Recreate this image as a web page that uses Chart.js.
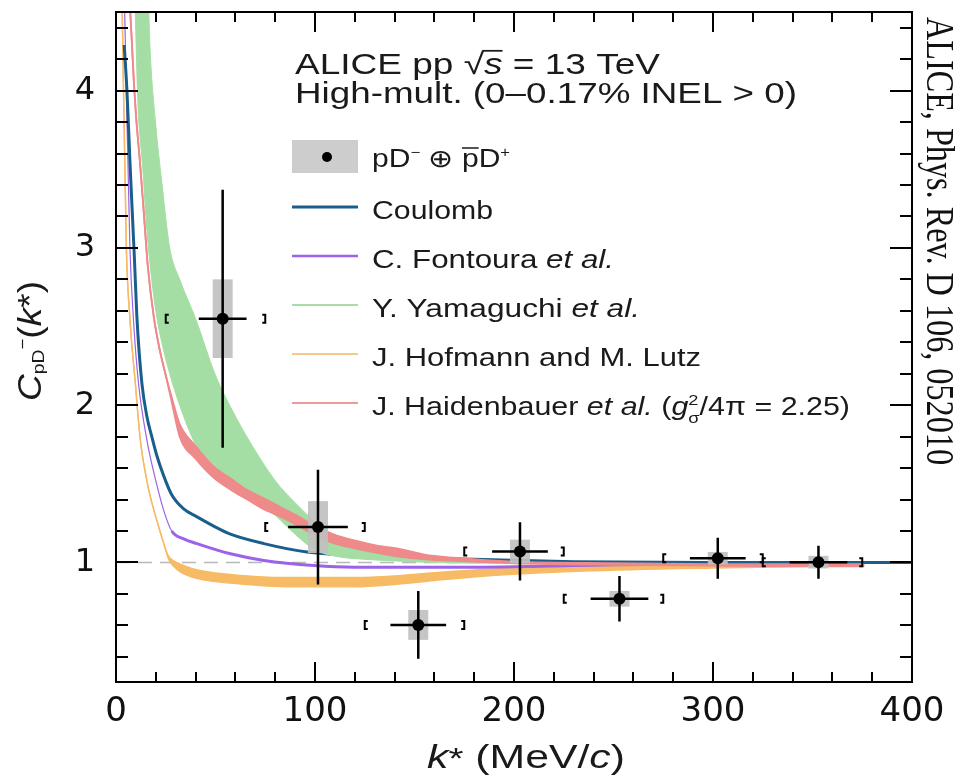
<!DOCTYPE html>
<html>
<head>
<meta charset="utf-8">
<script src="https://cdn.jsdelivr.net/npm/chart.js@4.4.1/dist/chart.umd.min.js"></script>
<style>
  html, body { margin: 0; padding: 0; background: #fff; }
  #wrap { width: 959px; height: 776px; position: relative; }
</style>
</head>
<body>
<div id="wrap"><canvas id="cf"></canvas></div>
<script>
// measured pD- correlation function, high-multiplicity pp at 13 TeV
const dataK = [53.6, 101.5, 151.9, 203, 253, 302.4, 353];
const dataC = [2.55, 1.225, 0.603, 1.07, 0.769, 1.027, 1.002];
const statErr = [0.82, 0.365, 0.215, 0.185, 0.145, 0.13, 0.105];
const kErr = [12, 15, 14, 14, 14.5, 14, 14.5];
const sysErr = [0.25, 0.165, 0.095, 0.075, 0.05, 0.04, 0.04];
const binLow = [25, 75, 125, 175, 225, 275, 325];
const binHigh = [75, 125, 175, 225, 275, 325, 375];

// Coulomb only
const coulombK = [4.1, 5.5, 7.1, 9.2, 10.5, 13, 15.5, 18, 20.5, 24, 28, 34, 40.7, 50, 57.5, 74.3, 96, 120, 150, 180, 230, 300, 400];
const coulombC = [4.29, 4.0, 3.52, 2.95, 2.56, 2.14, 1.93, 1.80, 1.68, 1.55, 1.43, 1.34, 1.29, 1.225, 1.18, 1.12, 1.066, 1.045, 1.03, 1.02, 1.005, 1.0, 1.0];

// C. Fontoura et al.
const fontouraK = [4.2, 5.2, 7, 9, 11.3, 15.5, 20, 24, 28, 34, 40.7, 57.5, 74.3, 99.5, 120, 176, 250, 300, 376];
const fontouraC = [4.6, 4.0, 3.0, 2.5, 2.14, 1.78, 1.52, 1.33, 1.20, 1.15, 1.12, 1.055, 1.013, 0.98, 0.97, 0.97, 0.985, 0.99, 0.995];

// Y. Yamaguchi et al. (band)
const yamaguchiK = [9.5, 10, 11, 12, 13.5, 15, 17, 20, 23, 27, 32, 40, 50, 60, 70, 80, 90, 100, 110, 125, 140, 160, 180, 200];
const yamaguchiLo = [4.6, 4.35, 3.92, 3.72, 3.5, 3.2, 2.91, 2.6, 2.40, 2.2, 2.0, 1.75, 1.60, 1.50, 1.40, 1.30, 1.18, 1.08, 1.04, 1.02, 1.01, 1.0, 0.996, 0.996];
const yamaguchiHi = [5.1, 5.1, 5.1, 5.1, 5.1, 5.1, 4.3, 3.78, 3.42, 3.0, 2.80, 2.55, 2.19, 1.93, 1.71, 1.52, 1.38, 1.26, 1.17, 1.095, 1.045, 1.015, 1.0, 0.998];

// J. Hofmann and M. Lutz (band)
const hofmannK = [3, 5.2, 7, 9.7, 12.2, 15.5, 17.2, 20, 22.3, 24.5, 26.4, 29, 32.3, 40, 49, 66, 83, 100, 120, 140, 160, 193, 235, 300, 376];
const hofmannHi = [4.6, 3.0, 2.55, 2.14, 1.78, 1.52, 1.42, 1.29, 1.19, 1.10, 1.04, 1.01, 0.99, 0.955, 0.935, 0.915, 0.905, 0.905, 0.905, 0.915, 0.935, 0.96, 0.975, 0.985, 0.99];
const hofmannLo = [4.6, 3.0, 2.55, 2.14, 1.78, 1.52, 1.42, 1.29, 1.19, 1.10, 1.02, 0.975, 0.94, 0.90, 0.88, 0.86, 0.847, 0.845, 0.845, 0.86, 0.885, 0.92, 0.945, 0.965, 0.98];

// J. Haidenbauer et al. (band)
const haidenbauerK = [6, 7, 8, 9, 10, 12, 14, 16, 19, 22, 25, 28, 32, 40, 49, 58, 66, 74, 83, 92, 100, 110, 120, 130, 143, 155, 170, 200, 250, 300, 340, 376];
const haidenbauerHi = [4.9, 4.55, 4.3, 4.05, 3.85, 3.55, 3.22, 2.88, 2.56, 2.35, 2.19, 2.05, 1.88, 1.74, 1.61, 1.53, 1.46, 1.41, 1.35, 1.29, 1.23, 1.175, 1.14, 1.11, 1.085, 1.05, 1.03, 1.005, 0.995, 0.99, 0.99, 0.99];
const haidenbauerLo = [4.9, 4.55, 4.3, 4.05, 3.85, 3.55, 3.22, 2.88, 2.56, 2.35, 2.19, 2.02, 1.80, 1.66, 1.54, 1.46, 1.40, 1.34, 1.29, 1.23, 1.17, 1.12, 1.09, 1.065, 1.035, 1.02, 1.01, 0.995, 0.985, 0.98, 0.975, 0.975];

const unityK = [0, 400];
const unityC = [1, 1];

const xTickLabels = [0, 100, 200, 300, 400];
const yTickLabels = [1, 2, 3, 4];

const BLUE = '#1a5e8c';
const PURPLE = '#9c62e8';
const GREEN = '#a4dea4';
const ORANGE = '#f7bb66';
const RED = '#ee8a8a';
const SANS = '"Liberation Sans", Arial, Helvetica, sans-serif';
const SERIF = '"Liberation Serif", "Times New Roman", serif';

const pts = (xs, ys) => xs.map((x, i) => ({ x, y: ys[i] }));

// ---- rich text: runs with italics, sub/superscripts, overlines; fitted to a width
function runFont(r, size) {
  return (r.i ? 'italic ' : '') + (size * (r.s || 1)).toFixed(1) + 'px ' + (r.f || SANS);
}
function runWidth(ctx, r, size) {
  if (r.sup !== undefined) {
    ctx.font = runFont({ s: r.s }, size);
    return Math.max(ctx.measureText(r.sup).width, ctx.measureText(r.sub).width);
  }
  ctx.font = runFont(r, size);
  return ctx.measureText(r.t).width;
}
function drawRuns(ctx, runs, x, y, size, width, sy) {
  const ws = runs.map(r => runWidth(ctx, r, size));
  const total = ws.reduce((a, b) => a + b, 0);
  const sx = width ? width / total : 1;
  ctx.save();
  ctx.translate(x, y);
  ctx.scale(sx, sy || 1);
  ctx.textAlign = 'left';
  ctx.textBaseline = 'alphabetic';
  let cx = 0;
  runs.forEach((r, i) => {
    if (r.sup !== undefined) {
      ctx.font = runFont({ s: r.s }, size);
      ctx.fillText(r.sup, cx, -0.42 * size);
      ctx.fillText(r.sub, cx, 0.3 * size);
    } else {
      const dy = (r.dy || 0) * size;
      ctx.font = runFont(r, size);
      ctx.fillText(r.t, cx, dy);
      if (r.bar) {
        ctx.lineWidth = size * 0.06;
        ctx.beginPath();
        ctx.moveTo(cx - (r.barPad || 0) * size, dy - r.bar * size);
        ctx.lineTo(cx + ws[i], dy - r.bar * size);
        ctx.stroke();
      }
    }
    cx += ws[i];
  });
  ctx.restore();
}

// ---- data points: systematic boxes, bin brackets, statistical bars
const errorBars = {
  id: 'errorBars',
  beforeDatasetDraw(chart, args) {
    if (chart.data.datasets[args.index].label !== 'data') return;
    const { ctx, scales: { x, y } } = chart;
    ctx.save();
    dataK.forEach((k, i) => {
      const px = x.getPixelForValue(k);
      const py = y.getPixelForValue(dataC[i]);
      // systematic box
      const top = y.getPixelForValue(dataC[i] + sysErr[i]);
      const bot = y.getPixelForValue(dataC[i] - sysErr[i]);
      ctx.fillStyle = 'rgba(192,192,192,0.92)';
      ctx.fillRect(px - 10, top, 20, bot - top);
      // bin brackets
      ctx.strokeStyle = '#000';
      ctx.lineWidth = 2;
      const bl = x.getPixelForValue(binLow[i]);
      const bh = x.getPixelForValue(binHigh[i]);
      ctx.beginPath();
      ctx.moveTo(bl + 3, py - 4); ctx.lineTo(bl, py - 4); ctx.lineTo(bl, py + 4); ctx.lineTo(bl + 3, py + 4);
      ctx.moveTo(bh - 3, py - 4); ctx.lineTo(bh, py - 4); ctx.lineTo(bh, py + 4); ctx.lineTo(bh - 3, py + 4);
      ctx.stroke();
      // statistical errors
      ctx.lineWidth = 2.5;
      ctx.beginPath();
      ctx.moveTo(px, y.getPixelForValue(dataC[i] + statErr[i]));
      ctx.lineTo(px, y.getPixelForValue(dataC[i] - statErr[i]));
      ctx.moveTo(x.getPixelForValue(k - kErr[i]), py);
      ctx.lineTo(x.getPixelForValue(k + kErr[i]), py);
      ctx.stroke();
    });
    ctx.restore();
  }
};

// ---- frame with inward ticks on all four sides
const frame = {
  id: 'frame',
  afterDraw(chart) {
    const { ctx, chartArea: a, scales: { x, y } } = chart;
    ctx.save();
    ctx.strokeStyle = '#000';
    ctx.lineWidth = 2;
    ctx.beginPath();
    for (let v = 0; v <= 400; v += 20) {
      const px = Math.round(x.getPixelForValue(v));
      const len = v % 100 === 0 ? 20 : 10;
      ctx.moveTo(px, a.bottom); ctx.lineTo(px, a.bottom - len);
      ctx.moveTo(px, a.top); ctx.lineTo(px, a.top + len);
    }
    for (let i = 2; i <= 22; i++) {
      const py = Math.round(y.getPixelForValue(i / 5));
      const len = i % 5 === 0 ? 22 : 12;
      ctx.moveTo(a.left, py); ctx.lineTo(a.left + len, py);
      ctx.moveTo(a.right, py); ctx.lineTo(a.right - len, py);
    }
    ctx.stroke();
    ctx.strokeRect(a.left, a.top, a.right - a.left, a.bottom - a.top);
    ctx.restore();
  }
};

// ---- legend, header, axis titles, citation
const annotations = {
  id: 'annotations',
  afterDraw(chart) {
    const ctx = chart.ctx;
    ctx.save();
    ctx.fillStyle = '#1a1a1a';
    ctx.strokeStyle = '#1a1a1a';

    drawRuns(ctx, [{ t: 'ALICE pp ' }, { t: '√' }, { t: 's', i: 1, bar: 0.8, barPad: 0.05 }, { t: ' = 13 TeV' }], 295, 74, 29, 365);
    drawRuns(ctx, [{ t: 'High-mult. (0–0.17% INEL > 0)' }], 295, 103, 29, 502);

    // data marker entry
    ctx.fillStyle = '#cdcdcd';
    ctx.fillRect(292, 140, 66, 33);
    ctx.fillStyle = '#000';
    ctx.beginPath();
    ctx.arc(327, 157, 5, 0, Math.PI * 2);
    ctx.fill();
    ctx.fillStyle = '#1a1a1a';
    drawRuns(ctx, [{ t: 'pD' }, { t: '−', s: 0.55, dy: -0.42 }, { t: ' ⊕ ' }, { t: 'p', bar: 0.76 }, { t: 'D' }, { t: '+', s: 0.55, dy: -0.42 }], 372, 167, 25, 138);

    const rows = [
      { y: 207, color: BLUE, w: 3, runs: [{ t: 'Coulomb' }], tw: 121 },
      { y: 256, color: PURPLE, w: 2.5, runs: [{ t: 'C. Fontoura ' }, { t: 'et al.', i: 1 }], tw: 242 },
      { y: 305, color: '#a8dca8', w: 2, runs: [{ t: 'Y. Yamaguchi ' }, { t: 'et al.', i: 1 }], tw: 268 },
      { y: 354, color: '#f6c98a', w: 2, runs: [{ t: 'J. Hofmann and M. Lutz' }], tw: 329 },
      { y: 403, color: '#ee9a9a', w: 2, runs: [{ t: 'J. Haidenbauer ' }, { t: 'et al.', i: 1 }, { t: ' (' }, { t: 'g', i: 1 }, { sup: '2', sub: 'σ', s: 0.6 }, { t: '/4π = 2.25)' }], tw: 478 }
    ];
    rows.forEach(r => {
      ctx.strokeStyle = r.color;
      ctx.lineWidth = r.w;
      ctx.beginPath();
      ctx.moveTo(292, r.y);
      ctx.lineTo(358, r.y);
      ctx.stroke();
      ctx.strokeStyle = '#1a1a1a';
      drawRuns(ctx, r.runs, 372, r.y + 12, 25, r.tw);
    });

    // x title
    drawRuns(ctx, [{ t: 'k', i: 1 }, { t: '*', s: 0.9 }, { t: ' (MeV/' }, { t: 'c', i: 1 }, { t: ')' }], 427, 768, 33, 198);

    // y title
    ctx.save();
    ctx.translate(41, 401);
    ctx.rotate(-Math.PI / 2);
    drawRuns(ctx, [{ t: 'C', i: 1 }, { t: 'pD', s: 0.52, dy: 0.1 }, { t: '−', s: 0.5, dy: -0.4 }, { t: '(' }, { t: 'k', i: 1 }, { t: '*' }, { t: ')' }], 0, 0, 33, 120);
    ctx.restore();

    // citation along the right edge
    ctx.save();
    ctx.translate(927, 17);
    ctx.rotate(Math.PI / 2);
    ctx.fillStyle = '#111';
    drawRuns(ctx, [{ t: 'ALICE, Phys. Rev. D 106, 052010', f: SERIF }], 0, 0, 32, 448, 1.25);
    ctx.restore();

    ctx.restore();
  }
};

const line = (label, xs, ys, color, width, order, extra) => Object.assign({
  label, data: pts(xs, ys), borderColor: color, backgroundColor: color,
  borderWidth: width, pointRadius: 0, fill: false, order,
  cubicInterpolationMode: 'monotone'
}, extra || {});

new Chart(document.getElementById('cf'), {
  type: 'line',
  data: {
    datasets: [
      line('unity', unityK, unityC, '#b8b8b8', 1.5, 9, { borderDash: [14, 8] }),
      line('hofmannLo', hofmannK, hofmannLo, ORANGE, 1.4, 8),
      line('hofmannHi', hofmannK, hofmannHi, ORANGE, 1.4, 7, { fill: '-1' }),
      line('fontoura', fontouraK, fontouraC, PURPLE, 3, 6, {
        segment: { borderWidth: c => (c.p1.parsed.x <= 28 ? 1.2 : 3) }
      }),
      line('coulomb', coulombK, coulombC, BLUE, 3, 5),
      line('yamaguchiLo', yamaguchiK, yamaguchiLo, GREEN, 1, 4),
      line('yamaguchiHi', yamaguchiK, yamaguchiHi, GREEN, 1, 3, { fill: '-1' }),
      line('haidenbauerLo', haidenbauerK, haidenbauerLo, RED, 1.8, 2),
      line('haidenbauerHi', haidenbauerK, haidenbauerHi, RED, 1.8, 1, { fill: '-1' }),
      {
        label: 'data', data: pts(dataK, dataC), showLine: false, order: 0,
        pointRadius: 6, pointBackgroundColor: '#000', pointBorderWidth: 0
      }
    ]
  },
  options: {
    responsive: true,
    maintainAspectRatio: false,
    animation: false,
    devicePixelRatio: 1,
    layout: { padding: { left: 0, right: 47, top: 12, bottom: 0 } },
    plugins: { legend: { display: false }, tooltip: { enabled: false } },
    scales: {
      x: {
        type: 'linear', min: 0, max: 400,
        grid: { display: false }, border: { display: false },
        afterBuildTicks: s => { s.ticks = xTickLabels.map(v => ({ value: v })); },
        afterFit: s => { s.height = 94; s.paddingLeft = 0; s.paddingRight = 0; },
        ticks: { font: { family: 'DejaVu Sans', size: 34 }, color: '#111', padding: 2, maxRotation: 0, autoSkip: false }
      },
      y: {
        type: 'linear', min: 0.24, max: 4.5,
        grid: { display: false }, border: { display: false },
        afterBuildTicks: s => { s.ticks = yTickLabels.map(v => ({ value: v })); },
        afterFit: s => { s.width = 116; s.paddingTop = 0; s.paddingBottom = 0; },
        ticks: { font: { family: 'DejaVu Sans', size: 32 }, color: '#111', padding: 13, autoSkip: false }
      }
    }
  },
  plugins: [errorBars, frame, annotations]
});
</script>
</body>
</html>
